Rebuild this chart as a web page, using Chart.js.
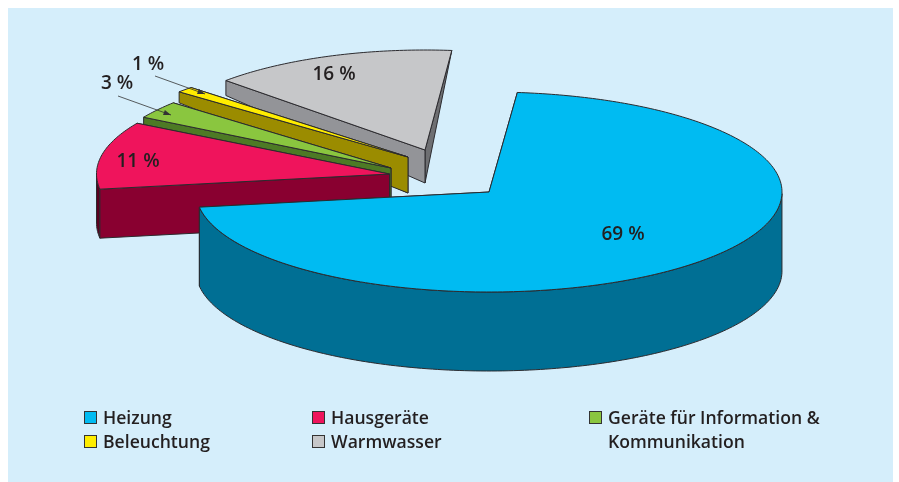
<!DOCTYPE html>
<html lang="de">
<head>
<meta charset="utf-8">
<title>Stromverbrauch</title>
<script src="https://cdn.jsdelivr.net/npm/chart.js@4"></script>
<style>
    html, body { margin: 0; padding: 0; background: #fff; }
    #stage { position: relative; width: 899px; height: 482px; overflow: hidden; }
    #panel { position: absolute; left: 8px; top: 8px; width: 885px; height: 474px; background: #d5eefb; }
    #pie { position: absolute; left: 0; top: 0; }
    .key { position: absolute; font: 600 17.6px/24px "Open Sans", sans-serif; color: #231f20; }
    .key i { position: absolute; left: -19px; top: 6px; width: 11px; height: 11px; border: 1px solid #333; }
</style>
</head>
<body>
<div id="stage">
    <div id="panel"></div>
    <canvas id="pie" width="899" height="482"></canvas>
    <div id="legend"></div>
</div>
<script>
const categories = ['Heizung', 'Hausgeräte', 'Geräte für Information & Kommunikation', 'Beleuchtung', 'Warmwasser'];
const shares = [69, 11, 3, 1, 16];

// Slice colours: top, cut face at start and end of the slice, outer rim
const topColors = ['#00bbf2', '#ef145c', '#8ac63f', '#ffed00', '#c6c7c9'];
const startFaces = ['#006f94', '#890030', '#4d7a25', '#9b8c00', '#939498'];
const endFaces = ['#006f94', '#890030', '#4d7a25', '#9b8c00', '#6e6f72'];
const rimColors = ['#006f94', '#5a0020', '#4d7a25', '#9b8c00', '#939498'];

// How far each slice is pulled out of the pie, in pixels
const pullX = [39.5, -60, -58.5, -41.5, -24.5];
const pullY = [13, -5, -11, -22, -29];
// Slices at the far side look a little narrower or wider
const widthScale = [1, 1, 0.98, 1.03, 0.945];

// Thickness of a slice at its tip, start corner and end corner
const depthTip = [79, 49, 30, 36, 33];
const depthStart = [79, 49, 10, 11, 15];
const depthEnd = [79, 49, 10, 11, 0];

// Back to front
const drawOrder = [4, 3, 2, 1, 0];

const labelX = [623, 138, 117, 148, 334];
const labelY = [235, 162, 84, 65, 75];

// Leader lines for the two thin slices: slice index, start x/y, tip x/y
const leaders = [[2, 118, 96, 171, 115], [3, 155, 76, 205, 94]];

const keyX = [103, 331, 608, 103, 331];
const keyY = [405, 405, 405, 429, 429];

const TILT = 0.3413;
const WARP = 0.119; // the far side of the pie looks a bit narrower

function screenPoint(i, arc, angle) {
    const t = angle + Math.PI / 2;
    const a = t - WARP * Math.sin(t) - Math.PI / 2;
    return {
        x: arc.x + pullX[i] + arc.outerRadius * widthScale[i] * Math.cos(a),
        y: arc.y + pullY[i] + arc.outerRadius * TILT * Math.sin(a)
    };
}

// Thickness varies over the slice: flat plane through tip and both corners
function depthPlane(i, arc) {
    const p0 = { x: arc.x + pullX[i], y: arc.y + pullY[i] };
    const p1 = screenPoint(i, arc, arc.startAngle);
    const p2 = screenPoint(i, arc, arc.endAngle);
    const ux = p1.x - p0.x, uy = p1.y - p0.y, vx = p2.x - p0.x, vy = p2.y - p0.y;
    const det = ux * vy - uy * vx;
    return (p) => {
        const s = ((p.x - p0.x) * vy - (p.y - p0.y) * vx) / det;
        const r = (ux * (p.y - p0.y) - uy * (p.x - p0.x)) / det;
        return depthTip[i] + s * (depthStart[i] - depthTip[i]) + r * (depthEnd[i] - depthTip[i]);
    };
}

function fillPoly(ctx, pts, color) {
    ctx.beginPath();
    pts.forEach((p, n) => n ? ctx.lineTo(p.x, p.y) : ctx.moveTo(p.x, p.y));
    ctx.closePath();
    ctx.fillStyle = color;
    ctx.fill();
    ctx.stroke();
}

function drawSlice(ctx, i, arc) {
    const depth = depthPlane(i, arc);
    const down = (p) => ({ x: p.x, y: p.y + depth(p) });
    const tip = { x: arc.x + pullX[i], y: arc.y + pullY[i] };
    const rim = [];
    const steps = Math.ceil((arc.endAngle - arc.startAngle) * 60);
    for (let n = 0; n <= steps; n++) {
        rim.push(screenPoint(i, arc, arc.startAngle + (arc.endAngle - arc.startAngle) * n / steps));
    }
    const first = rim[0];
    const last = rim[rim.length - 1];
    // Only the near half of the rim can be seen, the top covers the rest
    const nearRim = rim.filter(p => p.y >= tip.y);

    fillPoly(ctx, [tip, last, down(last), down(tip)], endFaces[i]);
    if (nearRim.length > 1) {
        fillPoly(ctx, nearRim.concat(nearRim.map(down).reverse()), rimColors[i]);
    }
    fillPoly(ctx, [tip, first, down(first), down(tip)], startFaces[i]);
    fillPoly(ctx, [tip].concat(rim), arc.options.backgroundColor);
}

const pie3d = {
    id: 'pie3d',
    beforeDatasetDraw(chart, args) {
        const ctx = chart.ctx;
        const arcs = args.meta.data;
        ctx.save();
        ctx.lineWidth = 1;
        ctx.lineJoin = 'round';
        ctx.strokeStyle = '#2b2a2e';
        drawOrder.forEach(i => drawSlice(ctx, i, arcs[i]));
        ctx.restore();
        return false;
    },
    afterDatasetsDraw(chart) {
        const ctx = chart.ctx;
        ctx.save();
        ctx.strokeStyle = '#333';
        ctx.fillStyle = '#333';
        ctx.lineWidth = 0.8;
        leaders.forEach(l => {
            const ang = Math.atan2(l[4] - l[2], l[3] - l[1]);
            ctx.beginPath();
            ctx.moveTo(l[1], l[2]);
            ctx.lineTo(l[3], l[4]);
            ctx.stroke();
            ctx.beginPath();
            ctx.moveTo(l[3], l[4]);
            ctx.lineTo(l[3] - 8 * Math.cos(ang - 0.35), l[4] - 8 * Math.sin(ang - 0.35));
            ctx.lineTo(l[3] - 8 * Math.cos(ang + 0.35), l[4] - 8 * Math.sin(ang + 0.35));
            ctx.closePath();
            ctx.fill();
        });
        ctx.fillStyle = '#231f20';
        ctx.font = '600 19px "Open Sans", sans-serif';
        ctx.textAlign = 'center';
        ctx.textBaseline = 'middle';
        shares.forEach((v, i) => ctx.fillText(v + ' %', labelX[i], labelY[i]));
        ctx.restore();
    }
};

new Chart(document.getElementById('pie'), {
    type: 'pie',
    data: {
        labels: categories,
        datasets: [{ data: shares, backgroundColor: topColors, rotation: 6.3, clip: false }]
    },
    options: {
        responsive: false,
        animation: false,
        radius: 293,
        layout: { padding: { bottom: 124 } },
        plugins: { legend: { display: false }, tooltip: { enabled: false } }
    },
    plugins: [pie3d]
});

document.getElementById('legend').innerHTML = categories.map((name, i) => `
    <div class="key" style="left:${keyX[i]}px; top:${keyY[i]}px; ${i === 2 ? 'width:240px' : 'white-space:nowrap'}">
        <i style="background:${topColors[i]}"></i>${name}
    </div>
`).join('');
</script>
</body>
</html>
